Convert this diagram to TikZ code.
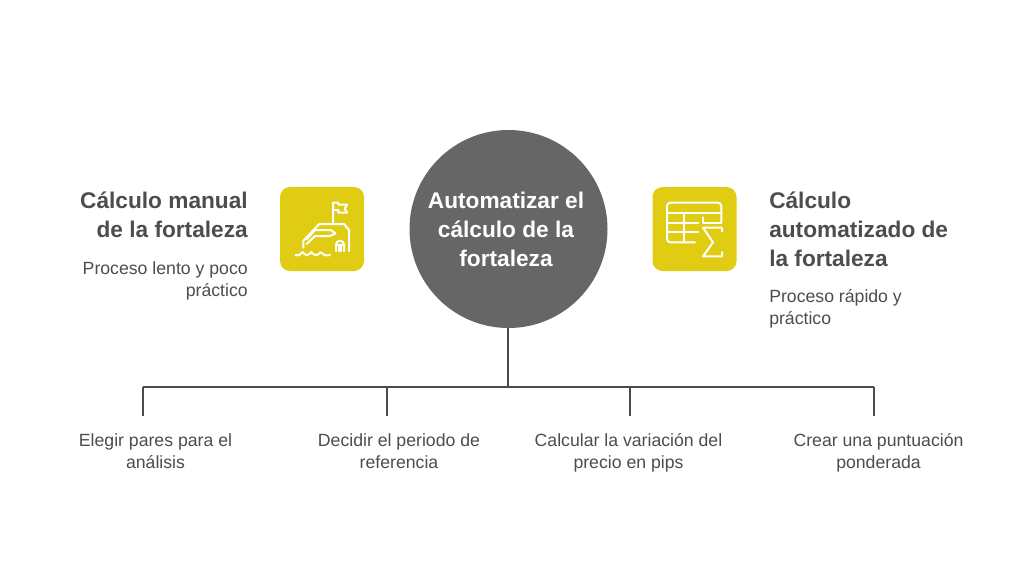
\documentclass[tikz,border=0pt]{standalone}
\usepackage{fontspec}
\setmainfont{Liberation Sans}
\definecolor{ink}{HTML}{4D4D4D}
\definecolor{disc}{HTML}{666666}
\definecolor{tile}{HTML}{E0CC12}
\definecolor{tree}{HTML}{4A4A4A}
\tikzset{
 heading/.style={font=\fontsize{17}{21.75}\selectfont\bfseries,text=ink,inner sep=0pt,align=#1},
 body/.style={font=\fontsize{13.25}{16.5}\selectfont,text=ink,inner sep=0pt,align=#1},
 stem/.style={draw=tree,line width=1.5pt},
 tilebox/.style={fill=tile,rounded corners=7.5pt,minimum width=63pt,minimum height=63pt,inner sep=0pt},
 glyph/.style={draw=white,line width=1.5pt,line cap=round,line join=round},
}
\begin{document}
\begin{tikzpicture}[x=0.75pt,y=-0.75pt]
\useasboundingbox (0,0) rectangle (1024,587);
\fill[white] (0,0) rectangle (1024,587);
% centre
\node[circle,fill=disc,minimum size=148.5pt,inner sep=0pt] (hub) at (508.5,229) {};
\node[font=\fontsize{17}{21.75}\selectfont\bfseries,text=white,align=center,inner sep=0pt] (hubtext) at (506,229) {Automatizar el\\cálculo de la\\fortaleza};
% tree
\coordinate (junction) at (508,387);
\coordinate (b1) at (143,387); \coordinate (b2) at (387,387);
\coordinate (b3) at (630,387); \coordinate (b4) at (873.5,387);
\coordinate (e1) at (143,416); \coordinate (e2) at (387,416);
\coordinate (e3) at (630,416); \coordinate (e4) at (873.5,416);
\draw[stem] (junction |- hub.south) -- (junction);
\draw[stem,line cap=square] (b1) -- (b4);
\draw[stem] (b1) -- (e1);
\draw[stem] (b2) -- (e2);
\draw[stem] (b3) -- (e3);
\draw[stem] (b4) -- (e4);
% tiles
\node[tilebox] (lefttile) at (322,229) {};
\node[tilebox] (righttile) at (694.5,229) {};
% left icon
\begin{scope}[shift={(270,180)},x=0.25pt,y=-0.25pt]
\draw[glyph] (189,128) -- (189,68) -- (205,68) -- (205,74) -- (231,74) -- (224,86) -- (231,98) -- (205,98) -- (205,90) -- (189,90);
\draw[glyph] (100,203) -- (100,182) -- (148,132) -- (222,132) -- (237,150) -- (237,213);
\draw[glyph] (110,178) -- (135,150) -- (183,150) -- (196,160) -- (180,168) -- (135,168) -- (110,192);
\draw[glyph] (198,213) -- (198,194) .. controls (198,178) and (222,178) .. (222,194) -- (222,213);
\draw[glyph] (198,196) -- (222,196);
\draw[glyph] (206,196) -- (206,213);
\draw[glyph] (214,196) -- (214,213);
\draw[glyph] (76,225) .. controls (86,228) and (92,224) .. (98,216) .. controls (106,228) and (116,228) .. (124,216) .. controls (132,228) and (144,228) .. (152,216) .. controls (160,226) and (170,228) .. (180,225);
\end{scope}
% right icon
\begin{scope}[shift={(645,180)},x=0.25pt,y=-0.25pt]
\draw[glyph,rounded corners=2.5pt] (150,187) -- (66,187) -- (66,68) -- (229,68) -- (229,128);
\draw[glyph] (66,98) -- (229,98);
\draw[glyph] (66,128) -- (160,128);
\draw[glyph] (66,157) -- (160,157);
\draw[glyph] (118,98) -- (118,187);
\draw[glyph] (175,112) -- (175,128);
\draw[glyph] (175,128) -- (229,128);
\draw[glyph] (231,154) -- (231,143) -- (174,143) -- (204,187) -- (174,229) -- (231,229) -- (231,216);
\end{scope}
% side text
\node[heading=right,anchor=north east] (lefthead) at (248,192) {Cálculo manual\\de la fortaleza};
\node[body=right,anchor=north east] (leftbody) at (248,261) {Proceso lento y poco\\práctico};
\node[heading=left,anchor=north west] (righthead) at (769,192) {Cálculo\\automatizado de\\la fortaleza};
\node[body=left,anchor=north west] (rightbody) at (769,289) {Proceso rápido y\\práctico};
% bottom labels
\node[body=center] (t1) at (155.5,451) {Elegir pares para el\\análisis};
\node[body=center] (t2) at (399,451) {Decidir el periodo de\\referencia};
\node[body=center] (t3) at (628.5,453) {Calcular la variación del\\precio en pips};
\node[body=center] (t4) at (878.5,453) {Crear una puntuación\\ponderada};
\end{tikzpicture}
\end{document}
